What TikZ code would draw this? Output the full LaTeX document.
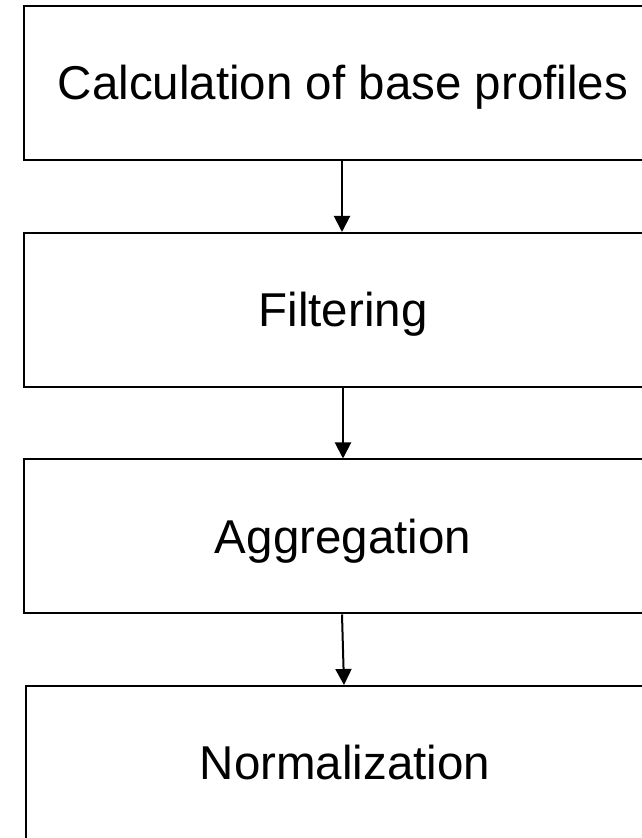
\documentclass[tikz,border=0pt]{standalone}
\usepackage{fontspec}
\setmainfont{Liberation Sans}
\usetikzlibrary{arrows.meta}
\begin{document}
\begin{tikzpicture}[x=1pt,y=1pt,
  box/.style={draw=black, line width=2pt, rectangle, minimum width=638pt, minimum height=154pt, inner sep=0pt, text height=34pt, text depth=0pt, font=\fontsize{47.5}{56}\selectfont},
  arr/.style={draw=black, line width=2pt, -{Triangle[width=16pt,length=16pt]}}]
\useasboundingbox (0,0) rectangle (642,838);
\node[box] (b1) at (343,755) {Calculation of base profiles};
\node[box] (b2) at (343,528) {Filtering};
\node[box] (b3) at (343,301.5) {Aggregation};
\node[box] (b4) at (345,75) {Normalization};
\draw[arr] ([xshift=-1pt]b1.south) -- ([xshift=-1pt]b2.north);
\draw[arr] (b2.south) -- (b2.south |- b3.north);
\coordinate (a3end) at ([xshift=1pt]b4.north -| b3.south);
\draw[arr] ([xshift=-1pt]b3.south) -- (a3end);
\end{tikzpicture}
\end{document}
